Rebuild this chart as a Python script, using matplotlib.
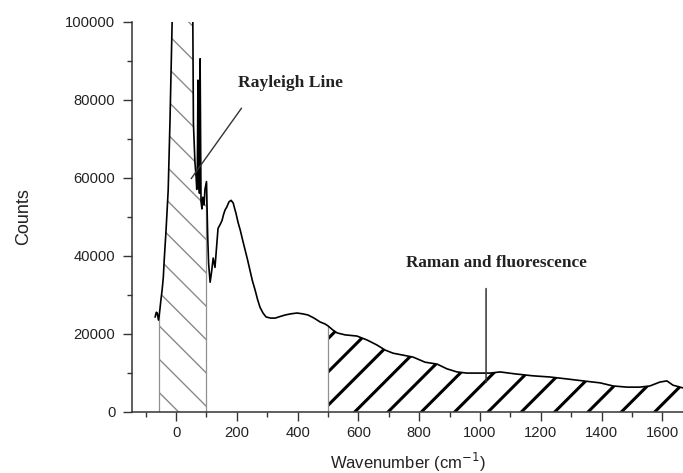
import numpy as np
import matplotlib.pyplot as plt
from matplotlib.ticker import MultipleLocator

# spectrum read in counts vs wavenumber (cm^-1)
wavenumber = np.array([
    -69, -65, -62, -58, -55, -50, -46, -42, -39, -33, -26, -20, -13, -10,
    50, 55, 57, 62, 66, 68, 70, 72, 74, 77, 79, 82, 85, 88, 92, 95, 100,
    104, 107, 112, 117, 122, 128, 133, 138, 145, 151, 156, 161, 167, 174,
    181, 188, 193, 197, 204, 211, 219, 227, 235, 243, 251, 260, 268, 276,
    286, 296, 311, 326, 342, 359, 378, 398, 416, 434, 454, 474, 490, 500,
    515, 530, 556, 595, 628, 661, 688, 714, 747, 780, 819, 859, 891, 924,
    957, 990, 1033, 1066, 1115, 1174, 1230, 1286, 1339, 1395, 1438, 1484,
    1526, 1559, 1592, 1615, 1635, 1668])
counts = np.array([
    24300, 25500, 25300, 23500, 25000, 28600, 31200, 34500, 39000, 46600,
    56800, 74800, 100000, 130000,
    130000, 101000, 74000, 64000, 60000, 57000, 62000, 85000, 60000, 56000,
    90500, 54000, 52000, 55000, 53000, 57000, 59000,
    45000, 38000, 33200, 36000, 39400, 37000, 42000, 47000, 48000, 49000,
    50500, 51700, 52500, 53800, 54200, 53500, 52000, 50900, 48500, 46600,
    44000, 41500, 39000, 36300, 33600, 31200, 28800, 26800, 25300, 24300,
    24000, 24000, 24400, 24800, 25100, 25300, 25100, 24800, 24000, 23000,
    22500, 22000, 21000, 20200, 19700, 19400, 18400, 17100, 15800, 15000,
    14500, 14000, 12700, 12200, 11000, 10200, 9900, 9900, 9900, 10200,
    9700, 9200, 8900, 8400, 7900, 7400, 6600, 6300, 6300, 6600, 7600,
    7900, 6800, 6100])

rayleigh_band = (-55, 100)
raman_band = (500, 1668)

x_ticks = [0, 200, 400, 600, 800, 1000, 1200, 1400, 1600]
y_ticks = [0, 20000, 40000, 60000, 80000, 100000]

DPI = 200
fig = plt.figure(figsize=(683 / DPI, 473 / DPI), dpi=DPI)
ax = fig.add_axes([0.1933, 0.1296, 0.8067, 0.8245])

sans = 'Liberation Sans'
serif = 'Liberation Serif'
axis_col = '#333333'

# hatched bands under the curve
in_ray = (wavenumber >= rayleigh_band[0]) & (wavenumber <= rayleigh_band[1])
with plt.rc_context({'hatch.color': '#8a8a8a', 'hatch.linewidth': 0.5}):
    band = ax.fill_between(wavenumber, 0, counts, where=in_ray,
                           facecolor='white', linewidth=0, hatch='\\\\')
    if hasattr(band, 'set_hatch_linewidth'):
        band.set_hatch_linewidth(0.5)

in_raman = (wavenumber >= raman_band[0]) & (wavenumber <= raman_band[1])
with plt.rc_context({'hatch.color': 'black', 'hatch.linewidth': 1.1}):
    band = ax.fill_between(wavenumber, 0, counts, where=in_raman,
                           facecolor='white', linewidth=0, hatch='//')
    if hasattr(band, 'set_hatch_linewidth'):
        band.set_hatch_linewidth(1.1)

# grey band edges
for lo in (rayleigh_band[0], rayleigh_band[1], raman_band[0]):
    ax.vlines(lo, 0, np.interp(lo, wavenumber, counts),
              colors='#909090', linewidth=0.45)

ax.plot(wavenumber, counts, color='black', linewidth=0.6)

ax.set_xlim(-145, 1668)
ax.set_ylim(0, 100000)

for s in ('top', 'right'):
    ax.spines[s].set_visible(False)
for s in ('left', 'bottom'):
    ax.spines[s].set_linewidth(0.55)
    ax.spines[s].set_color(axis_col)

ax.set_xticks(x_ticks)
ax.set_xticklabels([str(v) for v in x_ticks])
ax.set_yticks(y_ticks)
ax.set_yticklabels([str(v) for v in y_ticks])
ax.xaxis.set_minor_locator(MultipleLocator(100))
ax.yaxis.set_minor_locator(MultipleLocator(10000))
ax.tick_params(which='major', direction='out', length=3.4, width=0.5,
               color=axis_col, labelsize=5.3, labelcolor='#222222')
ax.tick_params(which='minor', direction='out', length=1.8, width=0.5,
               color=axis_col)
ax.tick_params(axis='y', which='major', pad=2.6)
ax.tick_params(axis='x', which='major', pad=1.6)
for lab in ax.get_xticklabels() + ax.get_yticklabels():
    lab.set_family(sans)

ax.set_xlabel('Wavenumber (cm$^{-1}$)', family=sans, fontsize=6.0,
              color='#222222', labelpad=4)
ax.set_ylabel('Counts', family=sans, fontsize=6.5, color='#222222',
              labelpad=12)

# labels with leader lines
ax.text(204, 84300, 'Rayleigh Line', family=serif, fontweight='bold',
        fontsize=6.3, ha='left', va='center', color='#222222')
ax.annotate('', xy=(39, 58600), xytext=(226, 79000),
            arrowprops=dict(arrowstyle='-', color=axis_col, linewidth=0.5))

ax.text(1053, 38100, 'Raman and fluorescence', family=serif,
        fontweight='bold', fontsize=6.2, ha='center', va='center',
        color='#222222')
ax.annotate('', xy=(1020, 6100), xytext=(1020, 33000),
            arrowprops=dict(arrowstyle='-', color=axis_col, linewidth=0.55))

fig.savefig('out.png', dpi=DPI)
